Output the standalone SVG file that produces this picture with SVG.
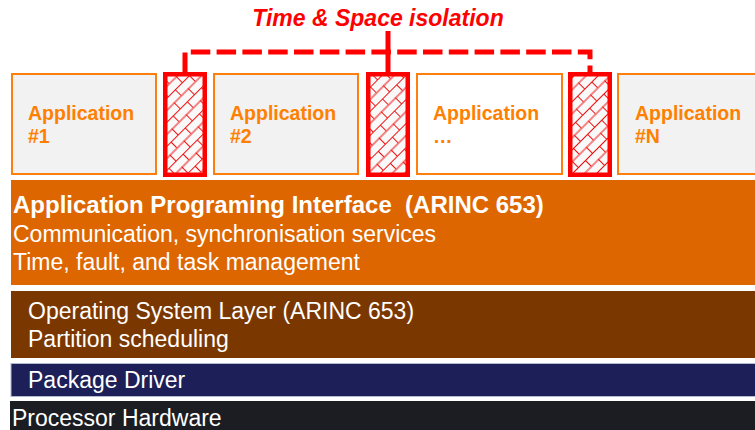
<svg xmlns="http://www.w3.org/2000/svg" width="755" height="430" viewBox="0 0 755 430">
<defs>
<pattern id="brick" patternUnits="userSpaceOnUse" width="20" height="17" patternTransform="rotate(-45)">
<rect width="20" height="17" fill="#F9F9F9"/>
<path d="M0,0.5 H20 M0,9 H20 M0.5,0 V8.5 M10.5,8.5 V17" stroke="#F01010" stroke-width="1" fill="none"/>
</pattern>
<style>
.app{fill:#F2F2F2;stroke:#FF7F0E;stroke-width:2}
.appw{fill:#FFFFFF;stroke:#FF7F0E;stroke-width:2}
.apptxt{font-family:"Liberation Sans",Arial,sans-serif;font-weight:bold;font-size:19.5px;fill:#FF8000}
.part{fill:url(#brick);stroke:#FF0000;stroke-width:4.5}
.lay{font-family:"Liberation Sans",Arial,sans-serif;font-size:23px;fill:#FFFFFF}
.conn{fill:none;stroke:#FF0000;stroke-width:5}
</style>
</defs>
<rect width="755" height="430" fill="#FFFFFF"/>

<g id="title">
<text x="378" y="26" text-anchor="middle" font-family="'Liberation Sans',Arial,sans-serif" font-weight="bold" font-style="italic" font-size="23" fill="#FF0000">Time &amp; Space isolation</text>
</g>

<g id="app1"><rect class="app" x="12" y="74" width="144" height="100"/><text class="apptxt" x="28" y="120">Application</text><text class="apptxt" x="28" y="143">#1</text></g>
<g id="app2"><rect class="app" x="214" y="74" width="144" height="100"/><text class="apptxt" x="230" y="120">Application</text><text class="apptxt" x="230" y="143">#2</text></g>
<g id="app3"><rect class="appw" x="417" y="74" width="145" height="100"/><text class="apptxt" x="433" y="120">Application</text><text class="apptxt" x="433" y="143">…</text></g>
<g id="appN"><rect class="app" x="618" y="74" width="145" height="100"/><text class="apptxt" x="635" y="120">Application</text><text class="apptxt" x="635" y="143">#N</text></g>

<g id="partition1"><rect class="part" x="165.25" y="74.25" width="39.5" height="100.5"/></g>
<g id="partition2"><rect class="part" x="368.25" y="74.25" width="39.5" height="100.5"/></g>
<g id="partition3"><rect class="part" x="570.25" y="74.25" width="39.5" height="100.5"/></g>

<g id="connectors">
<path class="conn" d="M185,72 V52 H590 V72" stroke-dasharray="19.5 6.3"/>
<path class="conn" d="M388,31 V72"/>
</g>

<g id="api">
<rect x="11" y="180" width="744" height="105" fill="#DD6600"/>
<text x="13" y="213" font-family="'Liberation Sans',Arial,sans-serif" font-weight="bold" font-size="24" fill="#FFFFFF" xml:space="preserve">Application Programing Interface  (ARINC 653)</text>
<text class="lay" x="13" y="242">Communication, synchronisation services</text>
<text class="lay" x="13" y="270">Time, fault, and task management</text>
</g>

<g id="os">
<rect x="11" y="291" width="744" height="67" fill="#7A3800"/>
<text class="lay" x="28" y="319">Operating System Layer (ARINC 653)</text>
<text class="lay" x="28" y="347">Partition scheduling</text>
</g>

<g id="driver">
<rect x="11" y="363.5" width="745" height="33" fill="#1D1F58" stroke="#B4B8D0" stroke-width="1"/>
<text class="lay" x="28" y="388">Package Driver</text>
</g>

<g id="hardware">
<rect x="10" y="401" width="745" height="29" fill="#1B1D23"/>
<text class="lay" x="12" y="426">Processor Hardware</text>
</g>
</svg>
